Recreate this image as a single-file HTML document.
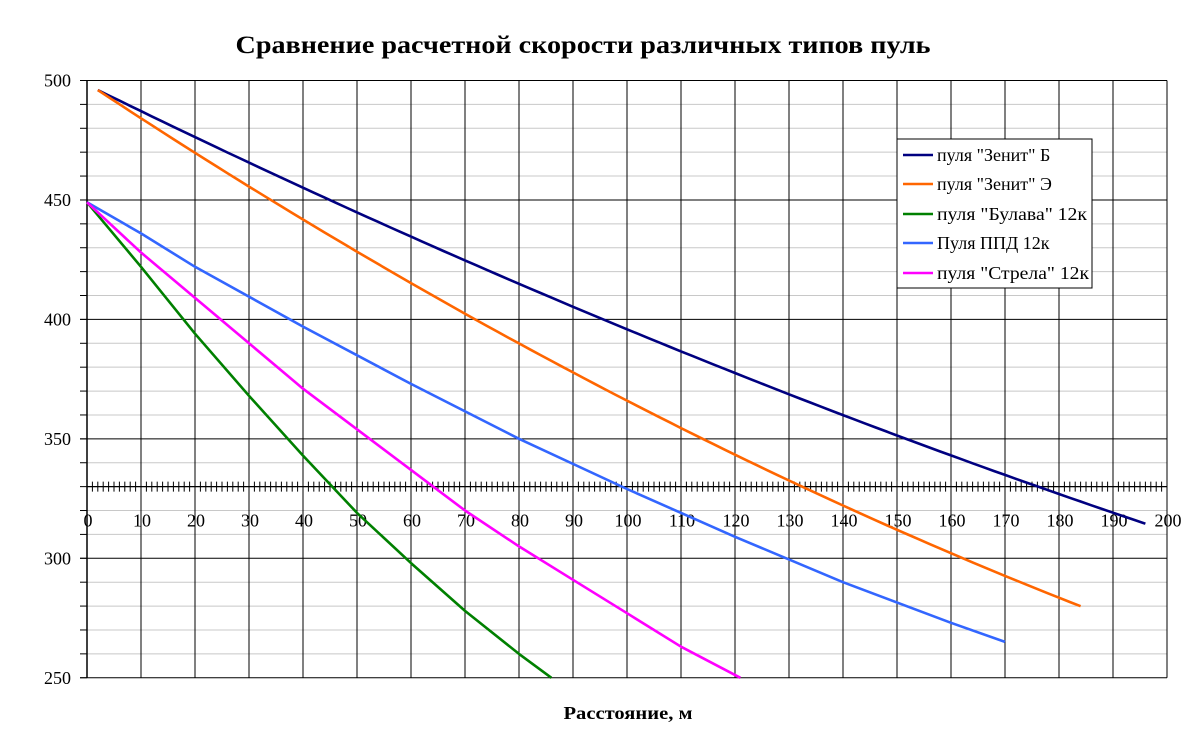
<!DOCTYPE html>
<html><head><meta charset="utf-8"><style>
html,body{margin:0;padding:0;background:#fff;}
svg{display:block;font-family:"Liberation Serif","DejaVu Serif",serif;}
</style></head><body>
<svg id="c" width="1200" height="750" viewBox="0 0 1200 750" xmlns="http://www.w3.org/2000/svg">
<rect width="1200" height="750" fill="#fff"/>
<g id="grid"></g>
<g id="series" fill="none" stroke-width="2.6" stroke-linejoin="round"></g>
<text x="583" y="53" text-anchor="middle" font-size="25" font-weight="bold" textLength="695" lengthAdjust="spacingAndGlyphs">Сравнение расчетной скорости различных типов пуль</text>
<text x="628" y="719" text-anchor="middle" font-size="18" font-weight="bold" textLength="129" lengthAdjust="spacingAndGlyphs">Расстояние, м</text>
<g>
<rect x="897" y="139" width="195" height="149" fill="#fff" stroke="#000" stroke-width="1"/>
<g stroke-width="2.6">
<line x1="903" y1="155" x2="933" y2="155" stroke="#000080"/>
<line x1="903" y1="184" x2="933" y2="184" stroke="#ff6600"/>
<line x1="903" y1="214" x2="933" y2="214" stroke="#008000"/>
<line x1="903" y1="243" x2="933" y2="243" stroke="#3366ff"/>
<line x1="903" y1="273" x2="933" y2="273" stroke="#ff00ff"/>
</g>
<g font-size="18">
<text x="937" y="161">пуля "Зенит" Б</text>
<text x="937" y="190">пуля "Зенит" Э</text>
<text x="937" y="220" textLength="150" lengthAdjust="spacingAndGlyphs">пуля "Булава" 12к</text>
<text x="937" y="249">Пуля ППД 12к</text>
<text x="937" y="279" textLength="152" lengthAdjust="spacingAndGlyphs">пуля "Стрела" 12к</text>
</g>
</g>
</svg>
<script>
var NS="http://www.w3.org/2000/svg";
function X(v){return 87+v*5.4;}
function Y(v){return 80.5+(500-v)*2.389;}
function el(p,t,a){var e=document.createElementNS(NS,t);for(var k in a)e.setAttribute(k,a[k]);p.appendChild(e);return e;}
var g=document.getElementById('grid');
for(var v=250;v<=500;v+=10){if(v%50)el(g,'line',{x1:87,x2:1167,y1:Y(v),y2:Y(v),stroke:'#c8c8c8','stroke-width':1});}
for(var v=250;v<=500;v+=10){el(g,'line',{x1:80,x2:87,y1:Y(v),y2:Y(v),stroke:'#000','stroke-width':1});}
for(var v=250;v<=500;v+=50){el(g,'line',{x1:80,x2:1167,y1:Y(v),y2:Y(v),stroke:'#000','stroke-width':1});
 var t=el(g,'text',{x:71,y:Y(v)+6,'text-anchor':'end','font-size':18});t.textContent=v;}
for(var u=10;u<=200;u+=10){el(g,'line',{x1:X(u),x2:X(u),y1:Y(500),y2:Y(250),stroke:'#000','stroke-width':1});}
el(g,'line',{x1:87,x2:87,y1:Y(500),y2:Y(250),stroke:'#000','stroke-width':1.5});
var ya=Y(330);
el(g,'line',{x1:87,x2:1167,y1:ya,y2:ya,stroke:'#000','stroke-width':1.2});
for(var u=0;u<=200;u+=1){el(g,'line',{x1:X(u),x2:X(u),y1:ya-5,y2:ya+5,stroke:'#000','stroke-width':1});}
for(var u=0;u<=200;u+=10){var t=el(g,'text',{x:X(u)+1,y:ya+40,'text-anchor':'middle','font-size':18});t.textContent=u;}
var S=document.getElementById('series');
function curve(f,a,b){var r=[];for(var x=a;x<=b+0.001;x+=2){r.push([Math.min(x,b),f(Math.min(x,b))]);}if(r[r.length-1][0]<b)r.push([b,f(b)]);return r;}
var zb=curve(function(x){return 496-1.1098*(x-2)+0.000898*(x-2)*(x-2)*(x>=2?1:1);},2,196);
var ze=curve(function(x){var d=x-2;return 496-1.4893*d+0.00166*d*d;},2,184);
var data=[
['#000080',zb],
['#ff6600',ze],
['#008000',[[0,449],[10,422],[20,394],[30,368],[40,343],[50,319],[60,298],[70,278],[80,260],[86,250]]],
['#3366ff',[[0,449],[10,436],[20,422],[40,397],[60,373],[80,350],[100,329],[120,309],[140,290],[160,273],[170,265]]],
['#ff00ff',[[0,449],[10,428],[20,409],[30,390],[40,371],[50,354],[60,337],[70,320],[80,305],[90,291],[100,277],[110,263],[121,250]]]
];
data.forEach(function(d){var p=d[1].map(function(q){return X(q[0]).toFixed(1)+','+Y(q[1]).toFixed(1);}).join(' ');
 el(S,'polyline',{points:p,stroke:d[0]});});
</script>
</body></html>
